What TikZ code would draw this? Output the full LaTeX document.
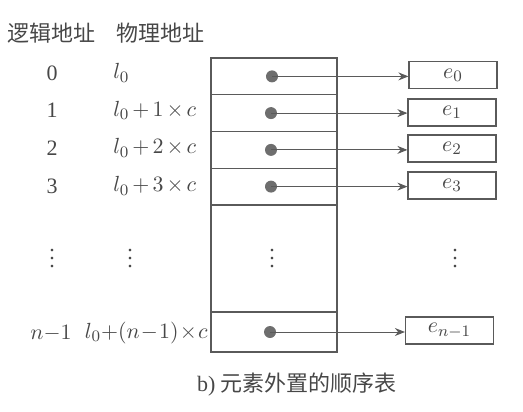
\documentclass[tikz,border=0pt]{standalone}
\usepackage{fontspec}
\setmainfont{Liberation Serif}
\newfontfamily\cjk{Noto Sans CJK SC}
\usepackage{tikz}
\usetikzlibrary{arrows.meta,positioning}
\definecolor{inkgray}{HTML}{474747}
\definecolor{linegray}{HTML}{5A5A5A}
\definecolor{dotgray}{HTML}{6E6E6E}
\medmuskip=2.5mu

\begin{document}
\begin{tikzpicture}[
    x=0.5pt, y=-0.5pt,
    every node/.style={text=inkgray},
    head/.style={font=\cjk\fontsize{11}{13}\selectfont, inner sep=0pt},
    addr/.style={font=\fontsize{11}{13}\selectfont, inner sep=0pt},
    cell/.style={draw=linegray, line width=0.6pt, minimum width=63pt, inner sep=0pt},
    ptr/.style={circle, fill=dotgray, minimum size=6pt, inner sep=0pt},
    elem/.style={draw=linegray, line width=0.6pt, minimum width=44pt, minimum height=13.5pt, inner sep=0pt, font=\fontsize{11}{13}\selectfont},
    arr/.style={-{Stealth[length=5pt, width=4pt]}, draw=linegray, line width=0.5pt}
  ]
    \useasboundingbox (0,0) rectangle (523,411);
    % column heads
    \node[head] (hlog) at (51,33) {逻辑地址};
    \node[head] (hphy) at (160,33) {物理地址};
    % table cells
    \node[cell, minimum height=18.375pt] (c0) at (274,76.4) {};
    \node[cell, minimum height=18.375pt] (c1) at (274,113.1) {};
    \node[cell, minimum height=18.375pt] (c2) at (274,149.9) {};
    \node[cell, minimum height=18.375pt] (c3) at (274,186.6) {};
    \node[cell, minimum height=53.5pt] (cdots) at (274,258.5) {};
    \node[cell, minimum height=20pt] (cn) at (274,332) {};
    % pointers
    \node[ptr] (p0) at (272,76.4) {};
    \node[ptr] (p1) at (271,113.1) {};
    \node[ptr] (p2) at (271,149.9) {};
    \node[ptr] (p3) at (271,186.6) {};
    \node[ptr] (pn) at (270,332) {};
    % elements
    \node[elem] (e0) at (453,75) {$e_0$};
    \node[elem] (e1) at (452,112.5) {$e_1$};
    \node[elem] (e2) at (452,148.5) {$e_2$};
    \node[elem] (e3) at (452,185.5) {$e_3$};
    \node[elem] (en) at (449.5,330.5) {$e_{n-1}$};
    \draw[arr] (p0.center) -- (e0.west |- p0.center);
    \draw[arr] (p1.center) -- (e1.west |- p1.center);
    \draw[arr] (p2.center) -- (e2.west |- p2.center);
    \draw[arr] (p3.center) -- (e3.west |- p3.center);
    \draw[arr] (pn.center) -- (en.west |- pn.center);
    % logical addresses
    \node[addr] (a0) at (52,73) {0};
    \node[addr] (a1) at (52,110.5) {1};
    \node[addr] (a2) at (52,148) {2};
    \node[addr] (a3) at (52,186) {3};
    \node[addr] (an) at (51,333) {$n{-}1$};
    % physical addresses
    \node[addr, anchor=west] (l0) at (113,73) {$l_0$};
    \node[addr, anchor=west] (l1) at (113,110.5) {$l_0+1\times c$};
    \node[addr, anchor=west] (l2) at (113,148) {$l_0+2\times c$};
    \node[addr, anchor=west] (l3) at (113,186) {$l_0+3\times c$};
    \node[addr, anchor=east] (ln) at (208,333) {\medmuskip=1mu $l_0{+}(n-1)\times c$};
    % ellipses
    \node[addr] (va) at (52,253) {$\vdots$};
    \node[addr] (vl) at (130,253) {$\vdots$};
    \node[addr] (vc) at (272,253) {$\vdots$};
    \node[addr] (ve) at (455,253) {$\vdots$};
    % caption
    \node[font=\fontsize{11}{13}\selectfont, inner sep=0pt] (cap) at (297,385) {b) {\cjk 元素外置的顺序表}};
  \end{tikzpicture}
\end{document}
